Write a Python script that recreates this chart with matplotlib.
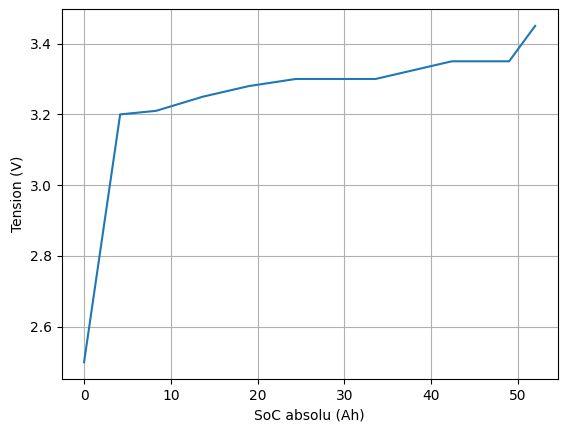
import matplotlib
matplotlib.use("Agg")
import matplotlib.pyplot as plt

soc = [0, 4.16, 8.3, 13.7, 19.0, 24.4, 29.0, 33.6, 38.0, 42.4, 49.0, 52.0]
tension = [2.5, 3.2, 3.21, 3.25, 3.28, 3.3, 3.3, 3.3, 3.325, 3.35, 3.35, 3.45]

fig = plt.figure(figsize=(5.67, 4.32), dpi=100)
plt.subplots_adjust(left=0.1085, right=0.9836, top=0.979, bottom=0.1227)
plt.plot(soc, tension)
plt.xlabel("SoC absolu (Ah)")
plt.ylabel("Tension (V)")
plt.grid()
plt.savefig("out.png")
